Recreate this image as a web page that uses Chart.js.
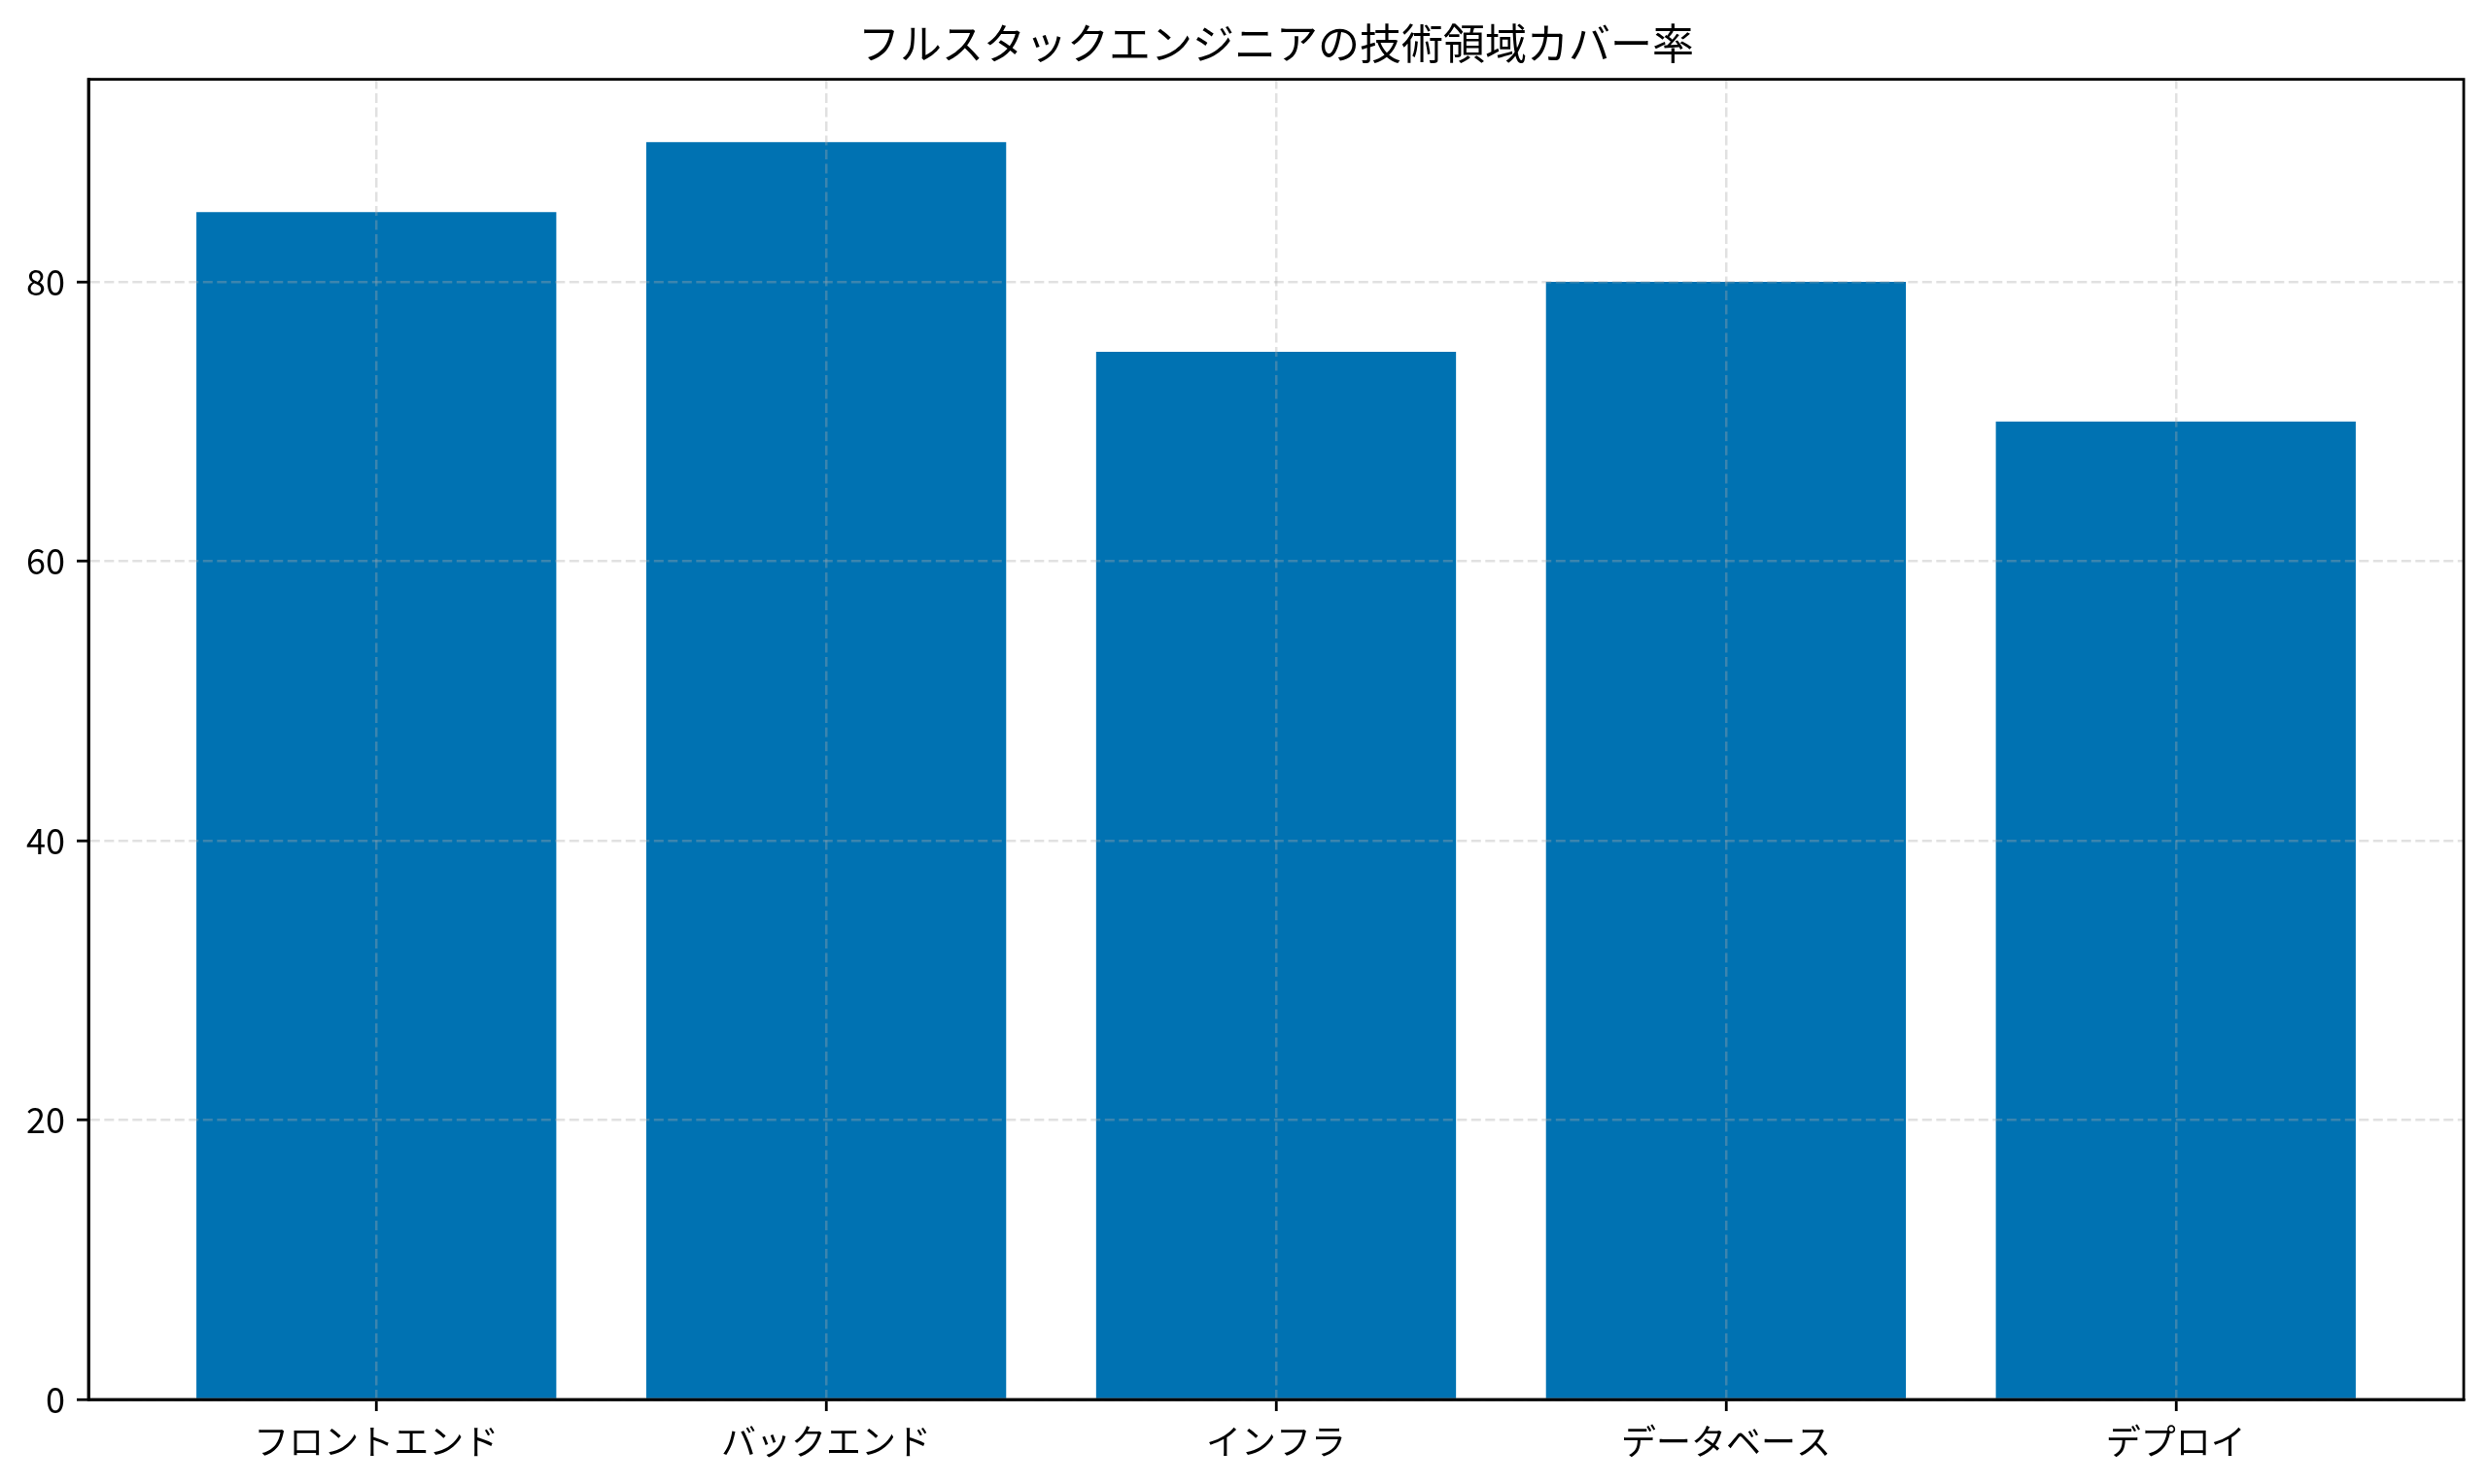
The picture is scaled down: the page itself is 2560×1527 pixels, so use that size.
<!DOCTYPE html>
<html>
<head>
<meta charset="utf-8">
<script src="https://cdn.jsdelivr.net/npm/chart.js@4/dist/chart.umd.min.js"></script>
<style>
  html, body { margin: 0; padding: 0; background: #ffffff; }
  #wrap { width: 2560px; height: 1527px; }
</style>
</head>
<body>
<div id="wrap"><canvas id="c" width="2560" height="1527"></canvas></div>
<script>
const titleText = 'フルスタックエンジニアの技術領域カバー率';
const categories = ['フロントエンド', 'バックエンド', 'インフラ', 'データベース', 'デプロイ'];
const coverage = [85, 90, 75, 80, 70];
const yTicks = [0, 20, 40, 60, 80];

const FONT = '"Noto Sans CJK JP", "Noto Sans", sans-serif';
const gridColor = 'rgba(170,170,170,0.35)';

const frame = {
  id: 'frame',
  afterLayout(chart) {
    // center the title over the plot area, as in the reference
    const tb = chart.titleBlock;
    if (tb) {
      tb.left = chart.chartArea.left;
      tb.right = chart.chartArea.right;
    }
  },
  afterDraw(chart) {
    const { ctx, chartArea: a } = chart;
    ctx.save();
    ctx.strokeStyle = '#000';
    ctx.lineWidth = 2.8;
    ctx.strokeRect(a.left, a.top, a.right - a.left, a.bottom - a.top);
    ctx.restore();
  }
};

new Chart(document.getElementById('c'), {
  type: 'bar',
  data: {
    datasets: [{
      data: categories.map((c, i) => ({ x: i, y: coverage[i] })),
      backgroundColor: '#0072B2',
      borderWidth: 0,
      categoryPercentage: 1.0,
      barPercentage: 0.8
    }]
  },
  options: {
    responsive: false,
    animation: false,
    devicePixelRatio: 1,
    layout: { padding: { left: 0, right: 25, top: 0, bottom: 0 } },
    plugins: {
      legend: { display: false },
      tooltip: { enabled: false },
      title: {
        display: true,
        text: titleText,
        color: '#000',
        font: { family: FONT, size: 43, weight: 'normal', lineHeight: 1.2 },
        padding: { top: 19, bottom: 11 }
      }
    },
    scales: {
      x: {
        type: 'linear',
        min: -0.64,
        max: 4.64,
        offset: false,
        z: 1,
        afterBuildTicks: (s) => { s.ticks = categories.map((c, i) => ({ value: i })); },
        afterFit: (s) => { s.height = 87; },
        ticks: {
          autoSkip: false,
          maxRotation: 0,
          padding: 10,
          color: '#000',
          font: { family: FONT, size: 36 },
          callback: (v) => categories[v]
        },
        grid: {
          z: 1,
          offset: false,
          color: gridColor,
          lineWidth: 2.5,
          drawTicks: true,
          tickLength: 12,
          tickColor: '#000',
          tickWidth: 2.8,
          tickBorderDash: []
        },
        border: { display: true, z: 2, color: '#000', width: 2.8, dash: [10, 4.5] }
      },
      y: {
        min: 0,
        max: 94.5,
        z: 1,
        afterBuildTicks: (s) => { s.ticks = yTicks.map(v => ({ value: v })); },
        afterFit: (s) => { s.width = 91; },
        ticks: {
          padding: 12,
          color: '#000',
          font: { family: FONT, size: 36 }
        },
        grid: {
          z: 1,
          color: gridColor,
          lineWidth: 2.5,
          drawTicks: true,
          tickLength: 12,
          tickColor: '#000',
          tickWidth: 2.8,
          tickBorderDash: []
        },
        border: { display: true, z: 2, color: '#000', width: 2.8, dash: [10, 4.5] }
      }
    }
  },
  plugins: [frame]
});
</script>
</body>
</html>
